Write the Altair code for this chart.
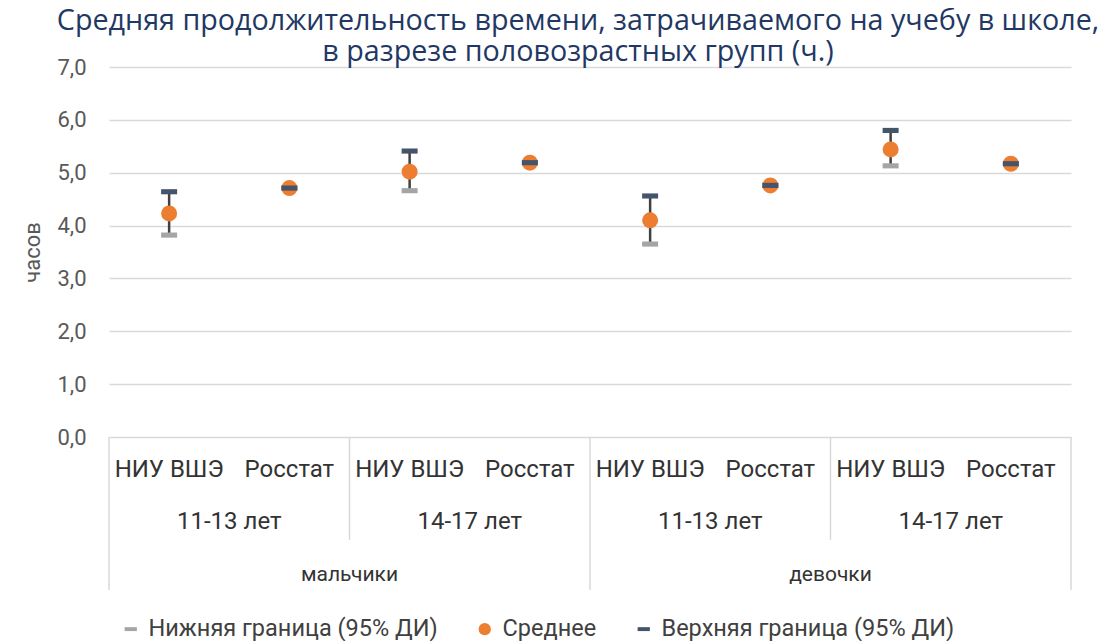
import altair as alt
import pandas as pd

# ---- data ----
sexes = ["мальчики", "девочки"]
ages = ["11-13 лет", "14-17 лет"]
sources = ["НИУ ВШЭ", "Росстат"]
mean_vals = [4.23, 4.71, 5.02, 5.19, 4.10, 4.76, 5.44, 5.17]
lower_vals = [3.82, 4.71, 4.66, 5.19, 3.65, 4.76, 5.13, 5.17]
upper_vals = [4.64, 4.71, 5.41, 5.19, 4.56, 4.76, 5.80, 5.17]
series_names = ["Нижняя граница (95% ДИ)", "Среднее", "Верхняя граница (95% ДИ)"]
series_colors = ["#A5A5A5", "#ED7D31", "#44546A"]
y_ticks = [0, 1, 2, 3, 4, 5, 6, 7]

FONT = "Roboto"
TITLE_FONT = "Open Sans"
DASH = "M-1,-0.32L1,-0.32L1,0.32L-1,0.32Z"

rows = []
i = 0
for s in sexes:
    for a in ages:
        for src in sources:
            rows.append(dict(idx=i, sex=s, age=a, source=src,
                             lower=lower_vals[i], mean=mean_vals[i], upper=upper_vals[i]))
            i += 1
df = pd.DataFrame(rows)

key_map = {"lower": series_names[0], "mean": series_names[1], "upper": series_names[2]}
long = df.melt(id_vars=["idx"], value_vars=["lower", "mean", "upper"], var_name="k", value_name="v")
long["series"] = long["k"].map(key_map)
long["ord"] = long["k"].map({"lower": 0, "mean": 1, "upper": 2})
long = long.sort_values(["ord", "idx"]).reset_index(drop=True)

age_df = df.groupby(["sex", "age"], sort=False)["idx"].mean().reset_index()
sex_df = df.groupby("sex", sort=False)["idx"].mean().reset_index()

sex_bounds = list(df.groupby("sex", sort=False)["idx"].min() - 0.5) + [df["idx"].max() + 0.5]
age_starts = list(df.groupby(["sex", "age"], sort=False)["idx"].min() - 0.5)
age_bounds = [b for b in age_starts if b not in sex_bounds]
long_sep = pd.DataFrame({"b": sex_bounds})
short_sep = pd.DataFrame({"b": age_bounds})

W, H = 962, 370
xscale = alt.Scale(domain=[-0.5, 7.5], nice=False, zero=False)
yscale = alt.Scale(domain=[0, 7], nice=False)


def yenc(field):
    return alt.Y(field, scale=yscale,
                 axis=alt.Axis(values=y_ticks, title="часов",
                               labelExpr="replace(format(datum.value, '.1f'), '.', ',')"))


X = alt.X("idx:Q", scale=xscale, axis=None)

stem = alt.Chart(df).mark_rule(color="#404040", strokeWidth=2.5).encode(
    x=X, y=yenc("lower:Q"), y2="upper:Q")

pts = alt.Chart(long).mark_point(filled=True, opacity=1, size=256).encode(
    x=X, y=yenc("v:Q"),
    color=alt.Color("series:N", scale=alt.Scale(domain=series_names, range=series_colors),
                    legend=alt.Legend(title=None)),
    shape=alt.Shape("series:N", scale=alt.Scale(domain=series_names, range=[DASH, "circle", DASH]),
                    legend=alt.Legend(title=None)),
    order=alt.Order("ord:Q"))

lbl_src = alt.Chart(df).mark_text(font=FONT, fontSize=24, color="#333333").encode(
    x=X, y=alt.value(403), text="source:N")
lbl_age = alt.Chart(age_df).mark_text(font=FONT, fontSize=24, color="#333333").encode(
    x=X, y=alt.value(455), text="age:N")
lbl_sex = alt.Chart(sex_df).mark_text(font=FONT, fontSize=21, color="#333333").encode(
    x=X, y=alt.value(508), text="sex:N")

sep_long = alt.Chart(long_sep).mark_rule(color="#d9d9d9", strokeWidth=1.5).encode(
    x=alt.X("b:Q", scale=xscale, axis=None), y=alt.value(H), y2=alt.value(523))
sep_short = alt.Chart(short_sep).mark_rule(color="#d9d9d9", strokeWidth=1.5).encode(
    x=alt.X("b:Q", scale=xscale, axis=None), y=alt.value(H), y2=alt.value(473))

chart = alt.layer(sep_long, sep_short, stem, pts, lbl_src, lbl_age, lbl_sex).properties(
    width=W, height=H,
    autosize=alt.AutoSizeParams(type="none"),
    padding={"left": 101, "top": 59, "right": 30, "bottom": 204},
    title=alt.TitleParams(
        ["Средняя продолжительность времени, затрачиваемого на учебу в школе,",
         "в разрезе половозрастных групп (ч.)"],
        font=TITLE_FONT, fontSize=28.7, fontWeight="normal", color="#1F3864",
        anchor="middle", dx=-12, offset=-11, lineHeight=31),
).configure_view(stroke=None).configure_axis(
    labelFont=FONT, titleFont=FONT,
).configure_axisY(
    grid=True, gridColor="#d9d9d9", gridWidth=1.5, domain=False, ticks=False,
    labelFontSize=22, labelColor="#595959", labelPadding=23,
    titleFontSize=22, titleColor="#595959", titleFontWeight="normal", titlePadding=12,
).configure_legend(
    orient="none", legendX=10, legendY=550, direction="horizontal",
    labelFont=FONT, labelFontSize=23.5, labelColor="#404040", labelOffset=6,
    symbolSize=150, symbolStrokeWidth=0, columnPadding=35, labelLimit=400,
)

chart.save("out.html", embed_options={"renderer": "svg", "actions": False})
